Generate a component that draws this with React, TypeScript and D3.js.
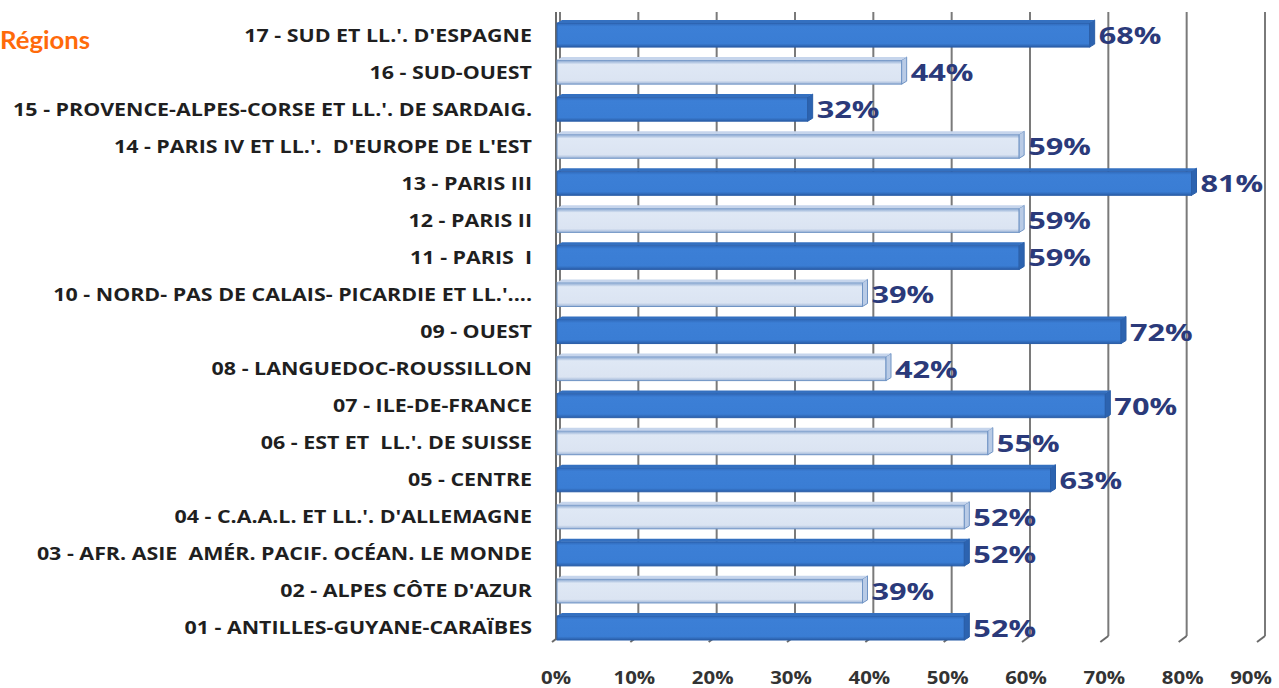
import React from 'react';
import * as d3 from 'd3';

// data, top row first
const regions = [
  "17 - SUD ET LL.'. D'ESPAGNE",
  '16 - SUD-OUEST',
  "15 - PROVENCE-ALPES-CORSE ET LL.'. DE SARDAIG.",
  "14 - PARIS IV ET LL.'.  D'EUROPE DE L'EST",
  '13 - PARIS III',
  '12 - PARIS II',
  '11 - PARIS  I',
  "10 - NORD- PAS DE CALAIS- PICARDIE ET LL.'....",
  '09 - OUEST',
  '08 - LANGUEDOC-ROUSSILLON',
  '07 - ILE-DE-FRANCE',
  "06 - EST ET  LL.'. DE SUISSE",
  '05 - CENTRE',
  "04 - C.A.A.L. ET LL.'. D'ALLEMAGNE",
  '03 - AFR. ASIE  AMÉR. PACIF. OCÉAN. LE MONDE',
  "02 - ALPES CÔTE D'AZUR",
  '01 - ANTILLES-GUYANE-CARAÏBES',
];
const values = [68, 44, 32, 59, 81, 59, 59, 39, 72, 42, 70, 55, 63, 52, 52, 39, 52];
const ticks = [0, 10, 20, 30, 40, 50, 60, 70, 80, 90];

const W = 1279;
const H = 688;
const font = "'Open Sans', sans-serif";

const App = () => {
  const x = d3.scaleLinear().domain([0, 90]).range([557, 1262]);
  const y = d3.scaleBand<string>().domain(regions).range([16.5, 646.5]).paddingInner(0.35).paddingOuter(0.175);
  const bh = y.bandwidth();
  const gridTop = 12;
  const gridBottom = 636;

  return (
    <svg width={W} height={H} style={{ position: 'absolute', left: 0, top: 0, background: '#fff' }}>
      <defs>
        <linearGradient id="dark" x1="0" y1="0" x2="0" y2="1">
          <stop offset="0" stopColor="#2f68b8" />
          <stop offset="0.15" stopColor="#3c7fd6" />
          <stop offset="0.85" stopColor="#3a7dd4" />
          <stop offset="1" stopColor="#2a5ea8" />
        </linearGradient>
        <linearGradient id="light" x1="0" y1="0" x2="0" y2="1">
          <stop offset="0" stopColor="#7e9fcc" />
          <stop offset="0.18" stopColor="#dfe8f5" />
          <stop offset="0.85" stopColor="#dbe4f2" />
          <stop offset="1" stopColor="#9fb6d8" />
        </linearGradient>
      </defs>

      {/* gridlines with 3D foot */}
      {ticks.map((t) => (
        <g key={t}>
          <line x1={x(t) + 3} x2={x(t) + 3} y1={gridTop} y2={gridBottom} stroke="#7a7a7a" strokeWidth={2} />
          <path d={`M${x(t) + 3},${gridBottom} L${x(t) - 5},${gridBottom + 6}`} stroke="#6a6a6a" strokeWidth={2} fill="none" />
          <text transform={`translate(${Math.min(x(t) - 1, W - 28)},684) scale(1.2,1)`} textAnchor="middle" fontFamily={font} fontWeight={700} fontSize={17} fill="#333">
            {t}%
          </text>
        </g>
      ))}
      <line x1={x(0) - 1} x2={x(0) - 1} y1={gridTop} y2={gridBottom + 4} stroke="#6a6a6a" strokeWidth={2} />

      {/* bars */}
      {regions.map((r, i) => {
        const y0 = y(r)!;
        const xe = x(values[i]);
        const dark = i % 2 === 0;
        return (
          <g key={r}>
            <rect x={x(0)} y={y0} width={xe - x(0)} height={bh} fill={dark ? 'url(#dark)' : 'url(#light)'} stroke={dark ? '#2a5ea8' : '#6f93c4'} strokeWidth={1} />
            <path
              d={`M${xe},${y0} L${xe + 5},${y0 - 3} L${xe + 5},${y0 + bh - 3} L${xe},${y0 + bh} Z`}
              fill={dark ? '#2c63b0' : '#b9cbe6'}
              stroke={dark ? '#2a5ea8' : '#6f93c4'}
              strokeWidth={1}
            />
            <path d={`M${x(0)},${y0} L${x(0) + 5},${y0 - 3} L${xe + 5},${y0 - 3} L${xe},${y0} Z`} fill={dark ? '#3470c0' : '#c6d5ec'} />
            <text transform={`translate(${xe + 9},${y0 + bh / 2 + 9}) scale(1.28,1)`} fontFamily={font} fontWeight={700} fontSize={24} fill="#2b3a7a">
              {values[i]}%
            </text>
            <text transform={`translate(532,${y0 + bh / 2 + 6.5}) scale(1.19,1)`} textAnchor="end" fontFamily={font} fontWeight={700} fontSize={18} fill="#1f1f1f" style={{ whiteSpace: 'pre' }}>
              {r}
            </text>
          </g>
        );
      })}

      <text transform="translate(0,49) scale(1.03,1)" fontFamily="Lato, sans-serif" fontWeight={700} fontSize={25} fill="#ff6a0a">
        Régions
      </text>
    </svg>
  );
};

export default App;
